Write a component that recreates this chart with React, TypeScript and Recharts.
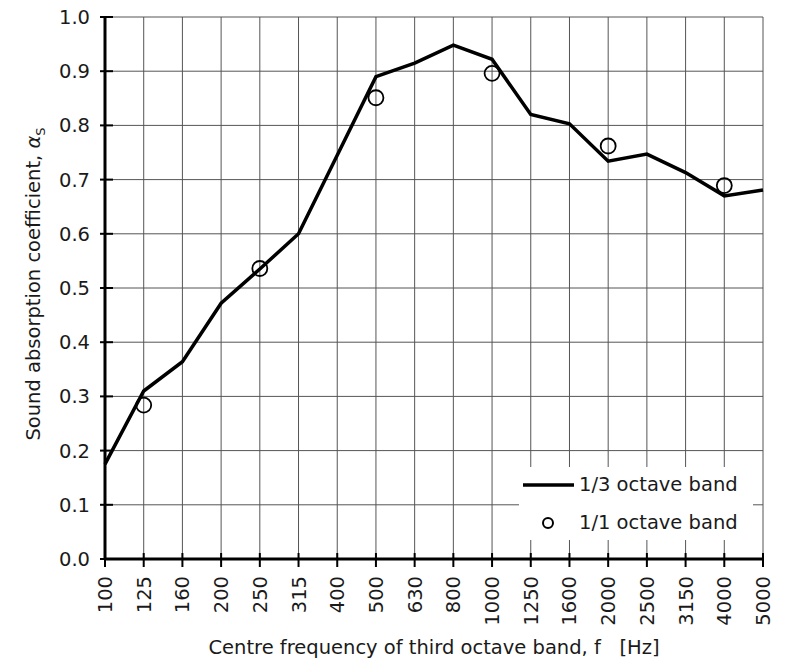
import React from 'react';
import { LineChart, Line, XAxis, YAxis, CartesianGrid, Legend, Label } from 'recharts';

const bands = ['100', '125', '160', '200', '250', '315', '400', '500', '630', '800', '1000', '1250', '1600', '2000', '2500', '3150', '4000', '5000'];
const thirdOctave = [0.175, 0.31, 0.364, 0.472, 0.535, 0.6, 0.745, 0.89, 0.915, 0.948, 0.922, 0.82, 0.803, 0.734, 0.747, 0.713, 0.67, 0.681];
const octaveBands = ['125', '250', '500', '1000', '2000', '4000'];
const octaveValues = [0.284, 0.536, 0.851, 0.896, 0.762, 0.689];
const yTicks = [0, 0.1, 0.2, 0.3, 0.4, 0.5, 0.6, 0.7, 0.8, 0.9, 1.0];
const seriesNames = ['1/3 octave band', '1/1 octave band'];
const xTitle = 'Centre frequency of third octave band, f \u00a0 [Hz]';
const yTitle = 'Sound absorption coefficient, ';

const data = bands.map((b, i) => {
  const k = octaveBands.indexOf(b);
  return { band: b, third: thirdOctave[i], octave: k >= 0 ? octaveValues[k] : null };
});

const FONT = '"DejaVu Sans", Verdana, sans-serif';
const FS = 19.5;
const TXT = '#1a1a1a';

const YTick = (props: any) => {
  const { x, y, payload } = props;
  return (
    <g>
      <line x1={x - 5} x2={x + 8} y1={y} y2={y} stroke="#000" strokeWidth={2} />
      <text x={x - 15} y={y} dy="0.36em" textAnchor="end" fontSize={FS} fontFamily={FONT} fill={TXT}>
        {Number(payload.value).toFixed(1)}
      </text>
    </g>
  );
};

const XTick = (props: any) => {
  const { x, y, payload } = props;
  const ty = y + 17;
  return (
    <g>
      <line x1={x} x2={x} y1={y - 6} y2={y + 8} stroke="#000" strokeWidth={2} />
      <text
        x={x}
        y={ty}
        dy="0.36em"
        textAnchor="end"
        fontSize={FS}
        fontFamily={FONT}
        fill={TXT}
        transform={`rotate(-90, ${x}, ${ty})`}
      >
        {payload.value}
      </text>
    </g>
  );
};

const YTitle = (props: any) => {
  const vb = props.viewBox || { x: 0, y: 0, width: 0, height: 0 };
  const cx = vb.x + 33;
  const cy = vb.y + vb.height / 2 - 4;
  return (
    <text
      x={cx}
      y={cy}
      dy="0.36em"
      textAnchor="middle"
      fontSize={FS}
      fontFamily={FONT}
      fill={TXT}
      transform={`rotate(-90, ${cx}, ${cy})`}
    >
      {yTitle}
      <tspan fontStyle="italic">α</tspan>
      <tspan fontSize={13} dy="5">S</tspan>
    </text>
  );
};

const LegendContent = () => (
  <div style={{ background: '#fff', width: '100%', height: '100%', fontFamily: FONT, fontSize: FS, color: TXT, position: 'relative' }}>
    <svg width={60} height={73} style={{ position: 'absolute', left: 0, top: 0 }}>
      <line x1={4} x2={55} y1={18} y2={18} stroke="#000" strokeWidth={3.5} />
      <circle cx={29} cy={56} r={5} fill="none" stroke="#000" strokeWidth={2} />
    </svg>
    <div style={{ position: 'absolute', left: 60, top: 6, whiteSpace: 'nowrap', lineHeight: '24px' }}>{seriesNames[0]}</div>
    <div style={{ position: 'absolute', left: 60, top: 44, whiteSpace: 'nowrap', lineHeight: '24px' }}>{seriesNames[1]}</div>
  </div>
);

export default function App() {
  return (
    <div style={{ position: 'absolute', left: 0, top: 0, background: '#fff' }}>
      <LineChart width={787} height={661} data={data} margin={{ top: 17, right: 24, left: 0, bottom: 0 }}>
        <CartesianGrid stroke="#555" strokeWidth={1} />
        <XAxis
          dataKey="band"
          type="category"
          height={102}
          tickSize={0}
          tickMargin={0}
          tickLine={false}
          axisLine={{ stroke: '#000', strokeWidth: 3 }}
          tick={<XTick />}
          interval={0}
        >
          <Label
            value={xTitle}
            position="insideBottom"
            offset={7}
            style={{ fontSize: FS, fontFamily: FONT, fill: TXT }}
          />
        </XAxis>
        <YAxis
          type="number"
          domain={[0, 1]}
          ticks={yTicks}
          width={105}
          tickSize={0}
          tickMargin={0}
          tickLine={false}
          axisLine={{ stroke: '#000', strokeWidth: 3 }}
          tick={<YTick />}
          interval={0}
        >
          <Label content={<YTitle />} />
        </YAxis>
        <Legend
          layout="horizontal"
          verticalAlign="middle"
          align="center"
          content={<LegendContent />}
          wrapperStyle={{ left: 519, top: 467, width: 234, height: 73 }}
        />
        <Line
          dataKey="third"
          name={seriesNames[0]}
          stroke="#000"
          strokeWidth={3.5}
          dot={false}
          activeDot={false}
          isAnimationActive={false}
          strokeLinejoin="miter"
        />
        <Line
          dataKey="octave"
          name={seriesNames[1]}
          stroke="none"
          dot={{ r: 7.5, stroke: '#000', strokeWidth: 1.8, fill: 'none' }}
          activeDot={false}
          isAnimationActive={false}
        />
      </LineChart>
    </div>
  );
}
